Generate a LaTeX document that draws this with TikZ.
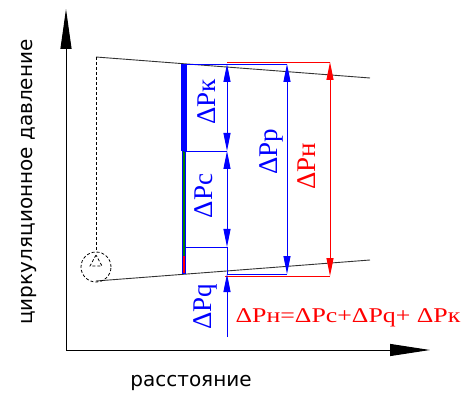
\documentclass[tikz,border=0pt]{standalone}
\usepackage{fontspec}
\setmainfont{Liberation Serif}
\newfontfamily\axfont{DejaVu Sans}
\usetikzlibrary{arrows.meta}
\definecolor{dgreen}{RGB}{0,128,0}
\begin{document}
\begin{tikzpicture}[x=1pt,y=-1pt,
  dim/.style={line width=0.9pt,{Triangle[length=18pt,width=7pt]}-{Triangle[length=18pt,width=7pt]}},
  ext/.style={line width=0.9pt},
  axis/.style={line width=1pt},
  trace/.style={line width=0.9pt,black!80},
  dsh/.style={line width=0.8pt,dash pattern=on 3pt off 2pt},
  lbl/.style={font=\fontsize{27}{27}\selectfont\rmfamily,rotate=90,inner sep=0pt},
  axlbl/.style={font=\fontsize{20}{20}\selectfont\axfont,inner sep=0pt}]
\useasboundingbox (0,0) rectangle (468,395);
% axes
\coordinate (O) at (66,350);
\coordinate (Ytip) at (66,9);
\coordinate (Xtip) at (430,350);
\draw[axis,-{Triangle[length=40pt,width=11pt]}] (O) -- (Ytip);
\draw[axis,-{Triangle[length=40pt,width=12pt]}] (O) -- (Xtip);
\node[axlbl,rotate=90] (ylab) at (29,182) {циркуляционное давление};
\node[axlbl] (xlab) at (191,383) {расстояние};
% wellbore boundary lines
\coordinate (U1) at (96,57);
\coordinate (U2) at (370,78);
\coordinate (L1) at (96,281);
\coordinate (L2) at (370,260);
\draw[trace] (U1) -- (U2);
\draw[trace] (L1) -- (L2);
% dashed well and bit
\coordinate (C) at (96,267);
\draw[dsh] (U1) -- (96,252);
\draw[dsh] (C) circle[radius=15pt];
\draw[dsh] (96,255) -- (90,266) -- (102,266) -- cycle;
% column
\fill[blue] (181,64) rectangle (187,151);
\draw[blue,line width=4.5pt] (184,151) -- (184,274);
\draw[dgreen,line width=1.6pt] (184,151) -- (184,256);
\draw[red,line width=1.6pt] (184,256) -- (184,273);
% extension lines
\coordinate (Kt) at (227,64);
\coordinate (Kb) at (227,151);
\coordinate (Cb) at (227,247);
\coordinate (Qt) at (227,274);
\coordinate (Qb) at (227,337);
\coordinate (Pt) at (287,64);
\coordinate (Pb) at (287,274);
\coordinate (Nt) at (330,62);
\coordinate (Nb) at (330,276);
\draw[ext,red] (227,62) -- (Nt);
\draw[ext,red] (225,276) -- (Nb);
\draw[ext,blue] (184,64) -- (Pt);
\draw[ext,blue] (184,151) -- (Kb);
\draw[ext,blue] (186,247) -- (Cb);
\draw[ext,blue] (Qt) -- (Pb);
% dimension lines
\draw[dim,blue] (Kt) -- (Kb);
\draw[dim,blue] (Kb) -- (Cb);
\draw[ext,blue] (Cb) -- (Qt);
\draw[ext,blue,-{Triangle[length=18pt,width=7pt]}] (Qb) -- (Qt);
\draw[dim,blue] (Pt) -- (Pb);
\draw[dim,red] (Nt) -- (Nb);
% labels
\node[lbl,blue] (lk) at (207,102) {ΔPк};
\node[lbl,blue] (lc) at (204,196) {ΔPс};
\node[lbl,blue] (lp) at (271,152) {ΔPр};
\node[lbl,red] (ln) at (307,166) {ΔPн};
\node[lbl,blue] (lq) at (205,307) {ΔPq};
\node[red,inner sep=0pt,font=\fontsize{21}{21}\selectfont\rmfamily] (eq) at (348,318) {\scalebox{1.23}[1]{ΔPн=ΔPс+ΔPq+ ΔPк}};
\end{tikzpicture}
\end{document}
